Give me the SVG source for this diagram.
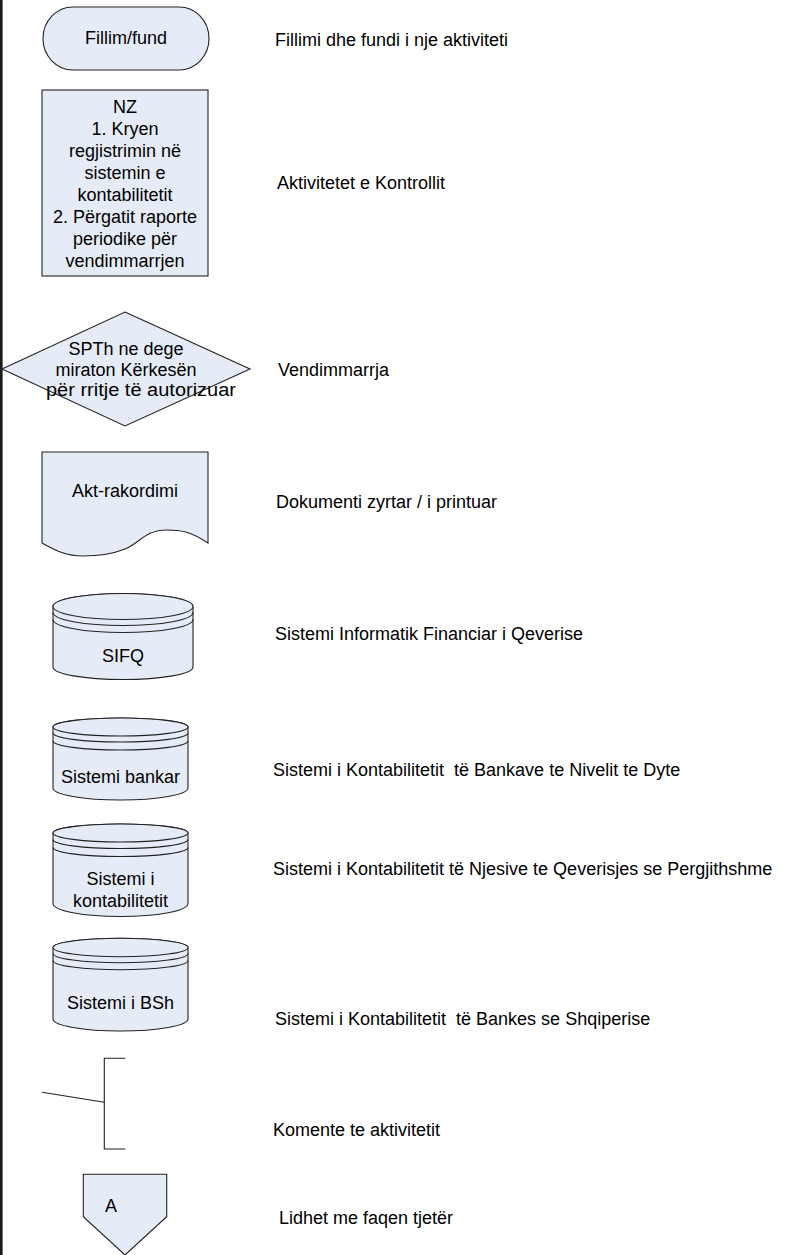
<svg xmlns="http://www.w3.org/2000/svg" width="788" height="1255" viewBox="0 0 788 1255">
<style>
.shape{fill:#E6ECF7;stroke:#222;stroke-width:1.1}
.line{fill:none;stroke:#222;stroke-width:1.1}
.t{font-family:"Liberation Sans",Arial,sans-serif;font-size:18px;fill:#000;text-anchor:middle}
.lbl{font-family:"Liberation Sans",Arial,sans-serif;font-size:18px;fill:#000}
</style>
<rect x="0" y="0" width="2.6" height="1255" fill="#1a1a1a"/>
<g id="terminal">
<rect class="shape" x="43" y="7" width="166" height="63" rx="30" ry="31.5"/>
<text class="t" x="126" y="44">Fillim/fund</text>
</g>
<g id="process">
<rect class="shape" x="42" y="90" width="166" height="186"/>
<text class="t" x="125" y="112.5">NZ</text>
<text class="t" x="125" y="134.5">1. Kryen</text>
<text class="t" x="125" y="156.5">regjistrimin në</text>
<text class="t" x="125" y="178.5">sistemin e</text>
<text class="t" x="125" y="200.5">kontabilitetit</text>
<text class="t" x="125" y="222.5">2. Përgatit raporte</text>
<text class="t" x="125" y="244.5">periodike për</text>
<text class="t" x="125" y="266.5">vendimmarrjen</text>
</g>
<g id="decision">
<polygon class="shape" points="125,312 250,369 125,426 2,369"/>
<text class="t" x="126" y="355">SPTh ne dege</text>
<text class="t" x="126" y="375.5">miraton Kërkesën</text>
<text class="t" x="141" y="395.5" textLength="190" lengthAdjust="spacingAndGlyphs">për rritje të autorizuar</text>
</g>
<g id="document">
<path class="shape" d="M42,452 H208 V543 C190,531 180,530 167,530 C145,530 140,543 125,549 C110,555 95,556 83,556 C65,556 55,550 42,543 Z"/>
<text class="t" x="125" y="496.7">Akt-rakordimi</text>
</g>
<g id="db-sifq">
<path class="shape" d="M53,606.5 A70,13 0 0 1 193,606.5 V667 A70,12.5 0 0 1 53,667 Z"/>
<ellipse class="shape" cx="123" cy="606.5" rx="70" ry="13"/>
<path class="line" d="M53,612.5 A70,13 0 0 0 193,612.5 M53,619.5 A70,13 0 0 0 193,619.5"/>
<text class="t" x="123" y="662.3">SIFQ</text>
</g>
<g id="db-bankar">
<path class="shape" d="M53,727 A67.5,9 0 0 1 188,727 V788 A67.5,12 0 0 1 53,788 Z"/>
<ellipse class="shape" cx="120.5" cy="727" rx="67.5" ry="9"/>
<path class="line" d="M53,733 A67.5,9 0 0 0 188,733 M53,741 A67.5,9 0 0 0 188,741"/>
<text class="t" x="120.5" y="783.3">Sistemi bankar</text>
</g>
<g id="db-kontabilitetit">
<path class="shape" d="M53,833 A67.5,9 0 0 1 188,833 V903.5 A67.5,13 0 0 1 53,903.5 Z"/>
<ellipse class="shape" cx="120.5" cy="833" rx="67.5" ry="9"/>
<path class="line" d="M53,839.5 A67.5,9 0 0 0 188,839.5 M53,847.5 A67.5,9 0 0 0 188,847.5"/>
<text class="t" x="120.5" y="885">Sistemi i</text>
<text class="t" x="120.5" y="907.3">kontabilitetit</text>
</g>
<g id="db-bsh">
<path class="shape" d="M53,947.5 A67.5,9.3 0 0 1 188,947.5 V1019 A67.5,12 0 0 1 53,1019 Z"/>
<ellipse class="shape" cx="120.5" cy="947.5" rx="67.5" ry="9.3"/>
<path class="line" d="M53,953.5 A67.5,9.3 0 0 0 188,953.5 M53,960.5 A67.5,9.3 0 0 0 188,960.5"/>
<text class="t" x="120.5" y="1009">Sistemi i BSh</text>
</g>
<g id="comment">
<path class="line" d="M125.3,1058.3 H104.3 V1149 H125.3"/>
<line class="line" x1="42" y1="1092.3" x2="104.3" y2="1102.3"/>
</g>
<g id="offpage">
<polygon class="shape" points="83.3,1174.3 166.7,1174.3 166.7,1216.7 125,1255 83.3,1216.7"/>
<text class="lbl" x="105" y="1212.3">A</text>
</g>
<g id="labels">
<text class="lbl" x="275" y="46">Fillimi dhe fundi i nje aktiviteti</text>
<text class="lbl" x="277" y="189">Aktivitetet e Kontrollit</text>
<text class="lbl" x="278" y="376">Vendimmarrja</text>
<text class="lbl" x="276" y="508">Dokumenti zyrtar / i printuar</text>
<text class="lbl" x="275" y="640">Sistemi Informatik Financiar i Qeverise</text>
<text class="lbl" x="273" y="776" xml:space="preserve">Sistemi i Kontabilitetit  të Bankave te Nivelit te Dyte</text>
<text class="lbl" x="273" y="875">Sistemi i Kontabilitetit të Njesive te Qeverisjes se Pergjithshme</text>
<text class="lbl" x="275" y="1025" xml:space="preserve">Sistemi i Kontabilitetit  të Bankes se Shqiperise</text>
<text class="lbl" x="273" y="1136">Komente te aktivitetit</text>
<text class="lbl" x="279" y="1224">Lidhet me faqen tjetër</text>
</g>
<g id="connectors"></g>
</svg>
